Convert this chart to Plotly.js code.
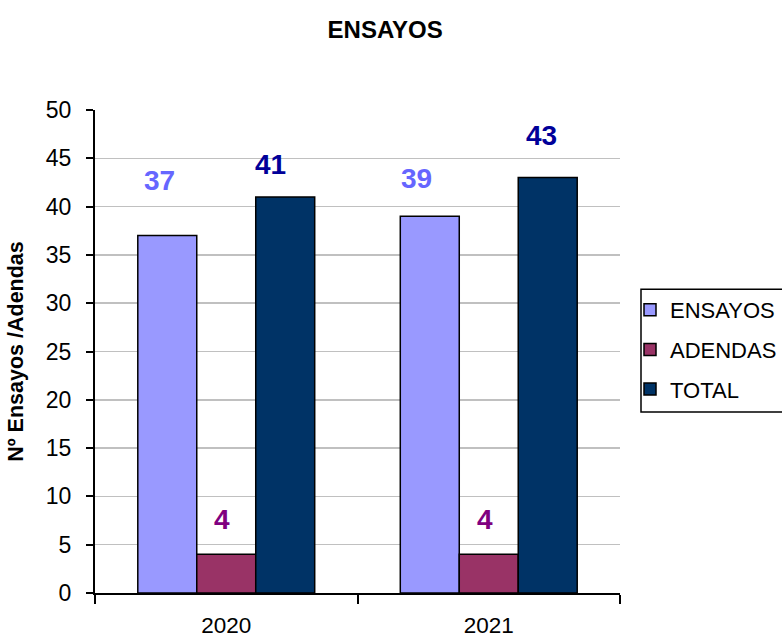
<!DOCTYPE html>
<html>
<head>
<meta charset="utf-8">
<script src="https://cdn.plot.ly/plotly-3.0.1.min.js"></script>
<style>html,body{margin:0;padding:0;background:#fff;}#chart{width:782px;height:639px;}</style>
</head>
<body>
<div id="chart"></div>
<script>
// ---- data ----
var years = ['2020', '2021'];
var seriesNames = ['ENSAYOS', 'ADENDAS', 'TOTAL'];
var ensayos = [37, 39];
var adendas = [4, 4];
var total = [41, 43];
var yTicks = [0, 5, 10, 15, 20, 25, 30, 35, 40, 45, 50];

// ---- styles ----
var barColors = ['#9999FF', '#993366', '#003366'];
var labelColors = ['#6666FF', '#800080', '#000099'];
// label offsets in pixels (horizontal nudge, lift above bar top) per series, per year
var labelDx = [[-8, -14], [-4, -4], [-14, -6]];
var labelLift = [[55, 38], [35, 35], [32, 42]];
var barStep = 58.6; // pixel distance between adjacent bar centers

var values = [ensayos, adendas, total];
var traces = values.map(function (v, i) {
  return {
    type: 'bar',
    name: seriesNames[i],
    x: years,
    y: v,
    legendgroup: 'g' + i,
    marker: {color: barColors[i], line: {color: '#000000', width: 1.5}},
    hoverinfo: 'x+y+name'
  };
});

var annotations = [];
values.forEach(function (v, i) {
  v.forEach(function (val, j) {
    annotations.push({
      x: j, y: val, xref: 'x', yref: 'y',   // x = category index of years[j]
      text: '<b>' + val + '</b>',
      showarrow: false,
      xanchor: 'center', yanchor: 'middle',
      xshift: (i - 1) * barStep + labelDx[i][j],
      yshift: labelLift[i][j],
      font: {family: 'Liberation Sans, Arial, sans-serif', size: 28, color: labelColors[i]}
    });
  });
});

var layout = {
  width: 782, height: 639,
  paper_bgcolor: '#ffffff', plot_bgcolor: '#ffffff',
  margin: {l: 95, r: 162, t: 110, b: 46},
  font: {family: 'Liberation Sans, Arial, sans-serif', size: 23, color: '#000000'},
  title: {
    text: '<b>ENSAYOS</b>',
    x: 0.4925, xanchor: 'center', xref: 'container',
    y: 0.953, yanchor: 'middle', yref: 'container',
    font: {size: 24, color: '#000000'}
  },
  barmode: 'group',
  bargap: 0.326,
  bargroupgap: 0,
  xaxis: {
    type: 'category',
    categoryorder: 'array', categoryarray: years,
    range: [-0.5, 1.5],
    tickson: 'boundaries',
    ticks: 'outside', ticklen: 9, tickwidth: 2, tickcolor: '#000000',
    showline: true, linecolor: '#000000', linewidth: 2,
    showgrid: false,
    ticklabelstandoff: 11,
    tickfont: {size: 22.5},
    automargin: false,
    fixedrange: true
  },
  yaxis: {
    range: [0, 50],
    tickvals: yTicks,
    ticktext: yTicks.map(String),
    ticks: 'outside', ticklen: 7, tickwidth: 2, tickcolor: '#000000',
    showline: true, linecolor: '#000000', linewidth: 2,
    showgrid: true, gridcolor: '#c0c0c0', gridwidth: 1.5,
    zeroline: false,
    ticklabelstandoff: 10,
    tickfont: {size: 23},
    automargin: false,
    title: {text: '<b>Nº Ensayos /Adendas</b>', font: {size: 21.5}, standoff: 16},
    fixedrange: true
  },
  showlegend: true,
  legend: {
    x: 630 / 782, xanchor: 'left', xref: 'container',
    y: 1 - 289 / 639, yanchor: 'top', yref: 'container',
    bgcolor: 'rgba(0,0,0,0)', borderwidth: 0,
    font: {size: 22},
    traceorder: 'grouped',
    tracegroupgap: 8,
    itemwidth: 30
  },
  shapes: [{
    type: 'rect', xref: 'paper', yref: 'paper',
    x0: 1.04, x1: 1.4, y0: 0.3747, y1: 0.629,
    line: {color: '#000000', width: 1.5}, fillcolor: 'rgba(0,0,0,0)', layer: 'below'
  }],
  annotations: annotations
};

Plotly.newPlot('chart', traces, layout, {displayModeBar: false, staticPlot: true});
</script>
</body>
</html>
